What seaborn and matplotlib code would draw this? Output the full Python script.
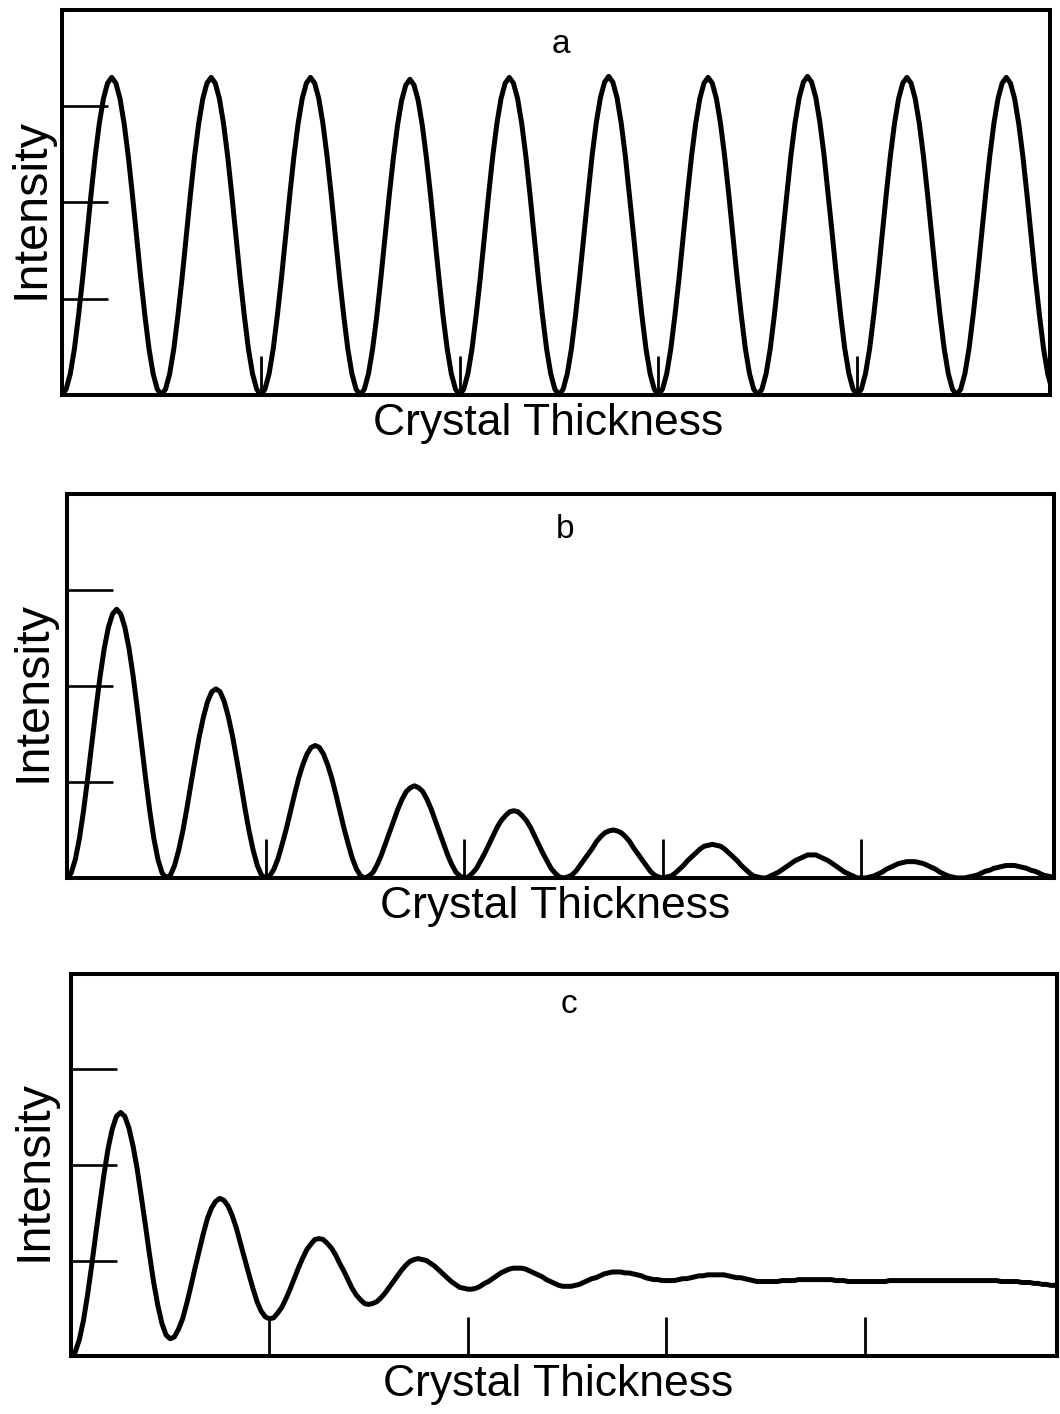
import numpy as np
import pandas as pd
import matplotlib
matplotlib.use("Agg")
import matplotlib.pyplot as plt
import seaborn as sns

# ---------------- data ----------------
# crystal thickness in units of one oscillation period, sampled every 1/24 period
thickness = np.linspace(0, 10, 241)

# (a) undamped oscillation
intensity_a = [
    0.00, 0.06, 0.22, 0.48, 0.83, 1.22, 1.65, 2.08, 2.48, 2.82, 3.08, 3.24, 3.30, 3.24, 3.08, 2.82, 2.48, 2.08, 1.65, 1.22, 0.83, 0.48, 0.22, 0.06,
    0.00, 0.06, 0.22, 0.48, 0.83, 1.22, 1.65, 2.08, 2.48, 2.82, 3.08, 3.24, 3.30, 3.24, 3.08, 2.82, 2.48, 2.08, 1.65, 1.22, 0.83, 0.48, 0.22, 0.06,
    0.00, 0.06, 0.22, 0.48, 0.83, 1.22, 1.65, 2.08, 2.48, 2.82, 3.08, 3.24, 3.30, 3.24, 3.08, 2.82, 2.48, 2.08, 1.65, 1.22, 0.83, 0.48, 0.22, 0.06,
    0.00, 0.06, 0.22, 0.48, 0.82, 1.22, 1.64, 2.07, 2.46, 2.80, 3.06, 3.22, 3.28, 3.22, 3.06, 2.80, 2.46, 2.07, 1.64, 1.22, 0.82, 0.48, 0.22, 0.06,
    0.00, 0.06, 0.22, 0.48, 0.83, 1.22, 1.65, 2.08, 2.48, 2.82, 3.08, 3.24, 3.30, 3.24, 3.08, 2.82, 2.48, 2.08, 1.65, 1.22, 0.83, 0.48, 0.22, 0.06,
    0.00, 0.06, 0.22, 0.48, 0.83, 1.23, 1.66, 2.08, 2.49, 2.83, 3.09, 3.25, 3.31, 3.25, 3.09, 2.83, 2.49, 2.08, 1.66, 1.23, 0.83, 0.48, 0.22, 0.06,
    0.00, 0.06, 0.22, 0.48, 0.83, 1.22, 1.65, 2.08, 2.48, 2.82, 3.08, 3.24, 3.30, 3.24, 3.08, 2.82, 2.48, 2.08, 1.65, 1.22, 0.83, 0.48, 0.22, 0.06,
    0.00, 0.06, 0.22, 0.48, 0.83, 1.23, 1.66, 2.08, 2.49, 2.83, 3.09, 3.25, 3.31, 3.25, 3.09, 2.83, 2.49, 2.08, 1.66, 1.23, 0.83, 0.48, 0.22, 0.06,
    0.00, 0.06, 0.22, 0.48, 0.83, 1.22, 1.65, 2.08, 2.48, 2.82, 3.08, 3.24, 3.30, 3.24, 3.08, 2.82, 2.48, 2.08, 1.65, 1.22, 0.83, 0.48, 0.22, 0.06,
    0.00, 0.06, 0.22, 0.48, 0.83, 1.22, 1.65, 2.08, 2.48, 2.82, 3.08, 3.24, 3.30, 3.24, 3.08, 2.82, 2.48, 2.08, 1.65, 1.22, 0.83, 0.48, 0.22, 0.06,
    0.00,
]

# (b) oscillation whose peaks decay towards zero
intensity_b = [
    0.00, 0.05, 0.19, 0.41, 0.70, 1.04, 1.40, 1.76, 2.10, 2.39, 2.61, 2.75, 2.80, 2.75, 2.61, 2.39, 2.10, 1.76, 1.40, 1.04, 0.70, 0.41, 0.19, 0.05,
    0.00, 0.03, 0.13, 0.29, 0.49, 0.73, 0.99, 1.24, 1.48, 1.68, 1.84, 1.94, 1.97, 1.94, 1.84, 1.68, 1.48, 1.24, 0.99, 0.73, 0.49, 0.29, 0.13, 0.03,
    0.00, 0.02, 0.09, 0.20, 0.35, 0.51, 0.69, 0.87, 1.04, 1.18, 1.29, 1.36, 1.38, 1.36, 1.29, 1.18, 1.04, 0.87, 0.69, 0.51, 0.35, 0.20, 0.09, 0.02,
    0.00, 0.02, 0.06, 0.14, 0.24, 0.36, 0.48, 0.60, 0.72, 0.82, 0.90, 0.94, 0.96, 0.94, 0.90, 0.82, 0.72, 0.60, 0.48, 0.36, 0.24, 0.14, 0.06, 0.02,
    0.00, 0.01, 0.05, 0.10, 0.18, 0.26, 0.35, 0.44, 0.53, 0.60, 0.65, 0.69, 0.70, 0.69, 0.65, 0.60, 0.53, 0.44, 0.35, 0.26, 0.18, 0.10, 0.05, 0.01,
    0.00, 0.01, 0.03, 0.07, 0.13, 0.19, 0.25, 0.31, 0.38, 0.43, 0.47, 0.49, 0.50, 0.49, 0.47, 0.43, 0.38, 0.31, 0.25, 0.19, 0.13, 0.07, 0.03, 0.01,
    0.00, 0.01, 0.02, 0.05, 0.09, 0.13, 0.18, 0.22, 0.26, 0.30, 0.33, 0.34, 0.35, 0.34, 0.33, 0.30, 0.26, 0.22, 0.18, 0.13, 0.09, 0.05, 0.02, 0.01,
    0.00, 0.00, 0.02, 0.04, 0.06, 0.09, 0.12, 0.15, 0.18, 0.20, 0.22, 0.24, 0.24, 0.24, 0.22, 0.20, 0.18, 0.15, 0.12, 0.09, 0.06, 0.04, 0.02, 0.00,
    0.00, 0.00, 0.01, 0.02, 0.04, 0.06, 0.09, 0.11, 0.13, 0.15, 0.16, 0.17, 0.17, 0.17, 0.16, 0.15, 0.13, 0.11, 0.09, 0.06, 0.04, 0.02, 0.01, 0.00,
    0.00, 0.00, 0.01, 0.02, 0.03, 0.05, 0.07, 0.08, 0.10, 0.11, 0.12, 0.13, 0.13, 0.13, 0.12, 0.11, 0.10, 0.08, 0.07, 0.05, 0.03, 0.02, 0.01, 0.00,
    0.00,
]

# (c) oscillation damped towards a constant level
intensity_c = [
    0.00, 0.04, 0.17, 0.37, 0.64, 0.95, 1.28, 1.60, 1.91, 2.18, 2.38, 2.51,
    2.55, 2.51, 2.39, 2.20, 1.96, 1.67, 1.37, 1.06, 0.77, 0.53, 0.34, 0.22,
    0.18, 0.20, 0.28, 0.39, 0.55, 0.73, 0.92, 1.10, 1.28, 1.44, 1.55, 1.62,
    1.65, 1.63, 1.57, 1.47, 1.34, 1.18, 1.02, 0.86, 0.71, 0.57, 0.47, 0.41,
    0.39, 0.40, 0.45, 0.51, 0.60, 0.70, 0.81, 0.92, 1.02, 1.11, 1.17, 1.22,
    1.23, 1.22, 1.18, 1.13, 1.06, 0.97, 0.89, 0.80, 0.71, 0.64, 0.59, 0.55,
    0.54, 0.55, 0.57, 0.61, 0.66, 0.72, 0.78, 0.84, 0.90, 0.95, 0.99, 1.01,
    1.02, 1.01, 1.00, 0.97, 0.94, 0.90, 0.86, 0.82, 0.78, 0.75, 0.72, 0.71,
    0.70, 0.70, 0.71, 0.73, 0.76, 0.78, 0.81, 0.84, 0.87, 0.89, 0.91, 0.92,
    0.92, 0.92, 0.91, 0.89, 0.87, 0.85, 0.83, 0.80, 0.78, 0.76, 0.74, 0.73,
    0.73, 0.73, 0.74, 0.75, 0.77, 0.79, 0.81, 0.82, 0.84, 0.86, 0.87, 0.88,
    0.88, 0.88, 0.87, 0.87, 0.86, 0.85, 0.84, 0.82, 0.81, 0.80, 0.80, 0.79,
    0.79, 0.79, 0.79, 0.80, 0.81, 0.81, 0.82, 0.83, 0.84, 0.84, 0.85, 0.85,
    0.85, 0.85, 0.85, 0.84, 0.83, 0.82, 0.82, 0.81, 0.80, 0.79, 0.78, 0.78,
    0.78, 0.78, 0.78, 0.78, 0.79, 0.79, 0.79, 0.79, 0.80, 0.80, 0.80, 0.80,
    0.80, 0.80, 0.80, 0.80, 0.80, 0.79, 0.79, 0.79, 0.78, 0.78, 0.78, 0.78,
    0.78, 0.78, 0.78, 0.78, 0.78, 0.78, 0.79, 0.79, 0.79, 0.79, 0.79, 0.79,
    0.79, 0.79, 0.79, 0.79, 0.79, 0.79, 0.79, 0.79, 0.79, 0.79, 0.79, 0.79,
    0.79, 0.79, 0.79, 0.79, 0.79, 0.79, 0.79, 0.79, 0.79, 0.78, 0.78, 0.78,
    0.78, 0.78, 0.77, 0.77, 0.77, 0.76, 0.76, 0.75, 0.75, 0.74, 0.74, 0.73,
    0.72,
]

panel_letters = ["a", "b", "c"]
x_label = "Crystal Thickness"
y_label = "Intensity"
x_tick_positions = [2, 4, 6, 8]
y_tick_positions = [1, 2, 3]
x_limit = 9.94
y_limit = 4.0

# ---------------- styling / layout ----------------
sns.set_theme(style="white")
plt.rcParams["font.family"] = ["Liberation Sans", "DejaVu Sans"]

fig = plt.figure(figsize=(10.6, 14.14), dpi=100, facecolor="white")

axes_rects = [
    [0.0585, 0.7207, 0.9321, 0.2722],
    [0.0632, 0.3791, 0.9311, 0.2715],
    [0.0670, 0.0410, 0.9302, 0.2702],
]
ylabel_x = [-0.031, -0.034, -0.038]
xlabel_x = [0.492, 0.495, 0.494]
letter_y = [0.888, 0.886, 0.898]

series = [intensity_a, intensity_b, intensity_c]

for i, (rect, vals, letter) in enumerate(zip(axes_rects, series, panel_letters)):
    ax = fig.add_axes(rect)
    ax.set_facecolor("white")
    df = pd.DataFrame({"thickness": thickness, "intensity": vals})
    sns.lineplot(data=df, x="thickness", y="intensity", ax=ax,
                 color="black", linewidth=3.6,
                 solid_joinstyle="round", solid_capstyle="round")
    ax.set_xlim(0, x_limit)
    ax.set_ylim(0, y_limit)
    ax.set_xticks(x_tick_positions)
    ax.set_yticks(y_tick_positions)
    ax.set_xticklabels([])
    ax.set_yticklabels([])
    ax.tick_params(axis="y", which="major", direction="in", length=33,
                   width=1.9, color="black", left=True, right=False)
    ax.tick_params(axis="x", which="major", direction="in", length=28,
                   width=2.0, color="black", bottom=True, top=False)
    for s in ax.spines.values():
        s.set_linewidth(2.9)
        s.set_color("black")
        s.set_visible(True)

    ax.set_xlabel(x_label, fontsize=32, va="baseline", ha="center", color="black")
    ax.xaxis.set_label_coords(xlabel_x[i], -0.104)
    ax.set_ylabel(y_label, fontsize=35, va="center", ha="center", color="black")
    ax.yaxis.set_label_coords(ylabel_x[i], 0.485)

    ax.text(0.505, letter_y[i], letter, transform=ax.transAxes,
            ha="center", va="baseline", fontsize=24, color="black")

fig.savefig("out.png", dpi=100, facecolor="white")
